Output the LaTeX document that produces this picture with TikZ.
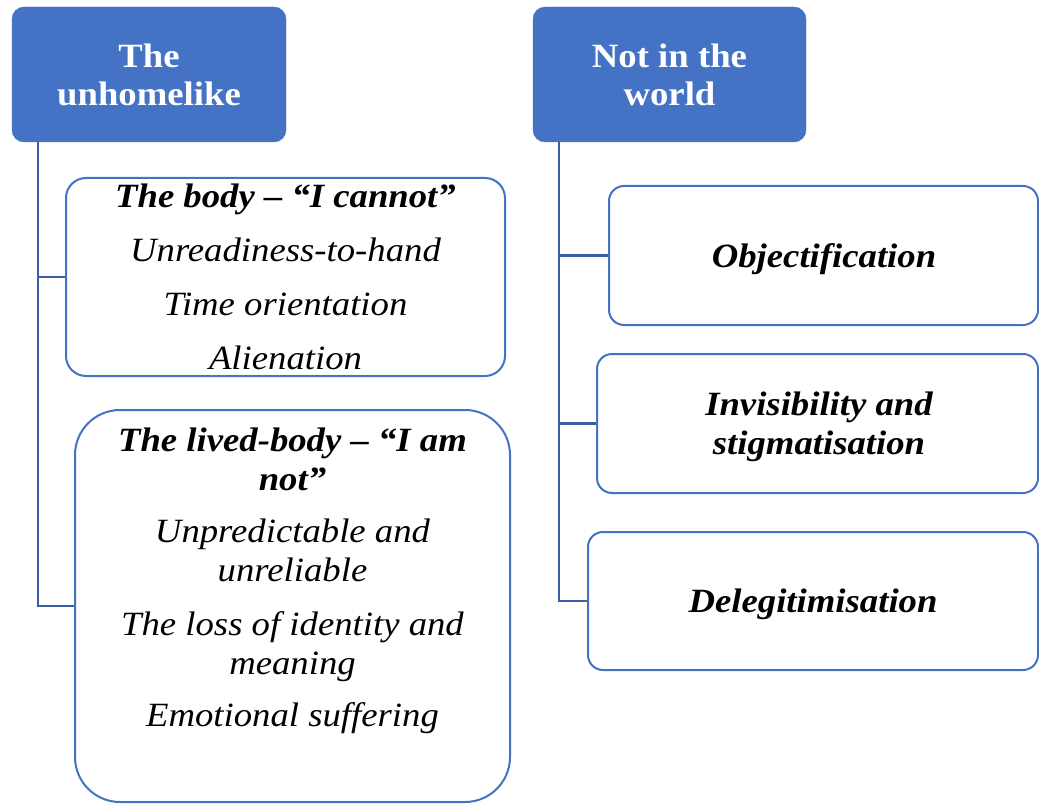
\documentclass[tikz,border=0pt]{standalone}
\usepackage{fontspec}
\setmainfont[FakeStretch=1.08]{Liberation Serif}
\definecolor{headblue}{HTML}{4472C4}
\definecolor{linkblue}{HTML}{3B5EA6}
\begin{document}
\begin{tikzpicture}[x=1pt,y=-1pt,
  head/.style={fill=headblue, draw=headblue, rounded corners=12pt, text=white,
    font=\fontsize{34}{38}\selectfont\bfseries, align=center, inner sep=0pt},
  leaf/.style={draw=headblue, line width=2pt, fill=white, inner sep=0pt},
  txt/.style={align=center, inner sep=0pt, font=\fontsize{34}{39}\selectfont\itshape},
  conn/.style={draw=linkblue, line width=2.2pt}]
\useasboundingbox (0,0) rectangle (1039,805);

% column headers
\node[head, minimum width=274pt, minimum height=135pt] (h1) at (149,74.5) {The\\unhomelike};
\node[head, minimum width=273pt, minimum height=135pt] (h2) at (669.5,74.5) {Not in the\\world};

% left column boxes
\node[leaf, rounded corners=20pt, minimum width=439pt, minimum height=198pt] (body) at (285.5,277) {};
\node[txt] (bodytxt) at (285.5,276.5) {\textbf{The body -- “I cannot”}\\[15pt]
  Unreadiness-to-hand\\[15pt] Time orientation\\[15pt] Alienation};

\node[leaf, rounded corners=45pt, minimum width=435pt, minimum height=392pt] (lived) at (292.5,606) {};
\node[txt] (livedtxt) at (292.5,581) {\textbf{The lived-body -- “I am}\\ \textbf{not”}\\[13pt]
  Unpredictable and\\ unreliable\\[15pt] The loss of identity and\\ meaning\\[13pt]
  Emotional suffering};

% right column boxes
\node[leaf, rounded corners=15pt, minimum width=429pt, minimum height=139pt] (obj) at (823.5,255.5) {};
\node[txt] (objtxt) at (824,259) {\textbf{Objectification}};
\node[leaf, rounded corners=15pt, minimum width=441pt, minimum height=139pt] (inv) at (817.5,423.5) {};
\node[txt] (invtxt) at (819,426.5) {\textbf{Invisibility and}\\ \textbf{stigmatisation}};
\node[leaf, rounded corners=15pt, minimum width=450pt, minimum height=138pt] (del) at (813,601) {};
\node[txt] (deltxt) at (813,604.5) {\textbf{Delegitimisation}};

% trunk lines from the headers to their boxes
\coordinate (ltrunk) at (38,142);
\coordinate (rtrunk) at (559,142);
\draw[conn] (ltrunk) |- (body.west);
\draw[conn] (ltrunk) |- (lived.west);
\draw[conn] (rtrunk) |- (obj.west);
\draw[conn] (rtrunk) |- (inv.west);
\draw[conn] (rtrunk) |- (del.west);
\end{tikzpicture}
\end{document}
